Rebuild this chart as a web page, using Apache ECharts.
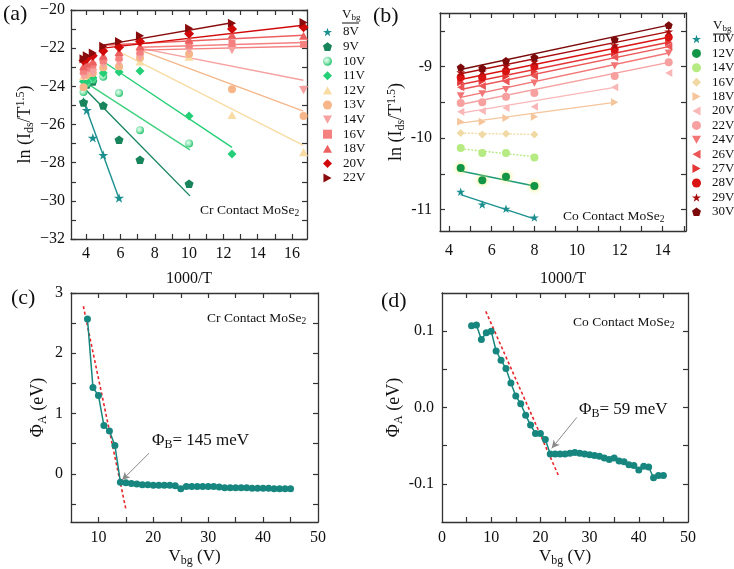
<!DOCTYPE html>
<html><head><meta charset="utf-8">
<script src="https://cdn.jsdelivr.net/npm/echarts@6/dist/echarts.min.js"></script>
<style>html,body{margin:0;padding:0;background:#fff}#c{width:734px;height:569px}</style>
</head><body><div id="c"></div>
<script>
// ---------------- DATA ----------------
// Panel (a): Cr contact, ln(Ids/T^1.5) vs 1000/T
const vbgA = ['8V','9V','10V','11V','12V','13V','14V','16V','18V','20V','22V'];
const invTA = [3.85, 4.04, 4.39, 5.0, 5.92, 7.14, 10.0, 12.5, 16.67];
const lnA = [
  [-24.8,-25.25,-26.7,-27.6,-29.85],
  [-24.85,-23.9,-23.75,-25.0,-26.8,-27.85,-29.1],
  [-24.3,-23.85,-23.65,-23.5,-24.35,-26.3,-27.0],
  [-23.75,-23.75,-23.55,-23.3,-23.25,-23.2,-25.55,-27.55],
  [-23.45,-23.3,-23.1,-22.95,-22.9,-22.7,-22.45,-25.5,-27.45],
  [-24.05,-23.4,-23.3,-23.0,-22.95,-22.5,-22.3,-24.15,-25.55],
  [-23.5,-23.3,-23.3,-22.85,-22.75,-22.45,-22.1,-22.1,-24.2],
  [-23.2,-23.05,-22.9,-22.65,-22.5,-22.2,-21.85,-21.75,-21.8],
  [-22.95,-22.8,-22.7,-22.4,-22.2,-21.9,-21.55,-21.3,-21.35],
  [-22.65,-22.55,-22.4,-22.15,-21.95,-21.65,-21.25,-21.0,-20.9],
  [-22.55,-22.4,-22.25,-21.9,-21.65,-21.35,-20.95,-20.7,-20.65]
];
// fitted lines [x1, y1, x2, y2]
const fitA = [
  [3.8,-24.66,5.94,-29.93],
  [3.85,-24.06,10.05,-29.74],
  [3.8,-23.7,10.05,-27.33],
  [5.0,-22.7,12.5,-27.2],
  [5.92,-22.18,16.66,-27.1],
  [7.14,-22.1,16.66,-25.3],
  [7.14,-22.0,16.66,-23.68],
  [7.14,-22.1,16.66,-21.9],
  [5.0,-21.85,16.66,-21.32],
  [5.0,-22.0,16.66,-20.8],
  [5.0,-21.84,12.5,-20.67]
];
const fitA_extra = [7.14,-21.95,16.66,-21.7];

// Panel (b): Co contact
const vbgB = ['10V','12V','14V','16V','18V','20V','22V','24V','26V','27V','28V','29V','30V'];
const invTB = [4.55, 5.56, 6.67, 8.0, 11.76, 14.29];
const lnB = [
  [-10.75,-10.93,-10.99,-11.11],
  [-10.42,-10.59,-10.54,-10.67],
  [-10.14,-10.21,-10.21,-10.27],
  [-9.93,-9.95,-9.94,-9.95],
  [-9.77,-9.77,-9.72,-9.70,-9.50],
  [-9.63,-9.62,-9.58,-9.56,-9.29,-9.09],
  [-9.51,-9.50,-9.42,-9.37,-9.13,-8.94],
  [-9.41,-9.38,-9.32,-9.23,-8.99,-8.81],
  [-9.29,-9.27,-9.21,-9.13,-8.87,-8.72],
  [-9.22,-9.20,-9.14,-9.07,-8.81,-8.66],
  [-9.15,-9.15,-9.06,-9.00,-8.76,-8.59],
  [-9.08,-9.07,-8.99,-8.93,-8.70,-8.51],
  [-9.01,-9.02,-8.92,-8.87,-8.62,-8.42]
];
const fitB = [
  [4.55,-10.79,8.0,-11.13],
  [4.55,-10.46,8.0,-10.67],
  [4.55,-10.15,8.0,-10.26],
  [4.55,-9.93,8.0,-9.95],
  [4.55,-9.79,11.76,-9.50],
  [4.55,-9.65,11.76,-9.29],
  [4.55,-9.53,14.29,-8.94],
  [4.55,-9.43,14.29,-8.81],
  [4.55,-9.32,14.29,-8.72],
  [4.55,-9.25,14.29,-8.66],
  [4.55,-9.18,14.29,-8.59],
  [4.55,-9.10,14.29,-8.51],
  [4.55,-9.04,14.29,-8.42]
];

// Panel (c): Cr contact, barrier vs Vbg
const vbgC = [8,9,10,11,12,13,14,15,16,17,18,19,20,21,22,23,24,25,26,27,28,29,30,31,32,33,34,35,36,37,38,39,40,41,42,43,44,45];
const phiC = [2.57,1.43,1.30,0.80,0.71,0.47,-0.14,-0.15,-0.16,-0.17,-0.18,-0.18,-0.19,-0.19,-0.19,-0.19,-0.20,-0.25,-0.21,-0.21,-0.21,-0.21,-0.21,-0.21,-0.22,-0.23,-0.23,-0.23,-0.23,-0.23,-0.24,-0.24,-0.24,-0.24,-0.25,-0.25,-0.25,-0.25];
const dashC = [[7.25,2.78],[15.0,-0.59]];
const arrowC = [[19.2,0.34],[14.3,-0.105]];

// Panel (d): Co contact
const vbgD = [6,7,8,9,10,11,12,13,14,15,16,17,18,19,20,21,22,23,24,25,26,27,28,29,30,31,32,33,34,35,36,37,38,39,40,41,42,43,44,45];
const phiD = [0.107,0.108,0.089,0.098,0.100,0.074,0.062,0.051,0.032,0.015,0.005,-0.010,-0.023,-0.034,-0.034,-0.042,-0.061,-0.061,-0.061,-0.061,-0.060,-0.059,-0.060,-0.061,-0.062,-0.063,-0.064,-0.066,-0.068,-0.066,-0.070,-0.071,-0.075,-0.076,-0.082,-0.077,-0.078,-0.092,-0.089,-0.089];
const dashD = [[8.9,0.126],[23.8,-0.091]];
const arrowD = [[27.4,-0.013],[22.3,-0.0535]];

// tick values
const ticksAx = [4,5,6,7,8,9,10,11,12,13,14,15,16], labAx = [4,6,8,10,12,14,16];
const ticksAy = [-32,-31,-30,-29,-28,-27,-26,-25,-24,-23,-22,-21,-20], labAy = [-32,-30,-28,-26,-24,-22,-20];
const ticksBx = [4,5,6,7,8,9,10,11,12,13,14,15], labBx = [4,6,8,10,12,14];
const ticksBy = [-11,-10.5,-10,-9.5,-9,-8.5], labBy = [-11,-10,-9];
const ticksCx = [10,15,20,25,30,35,40,45], labCx = [10,20,30,40,50];
const ticksCy = [-0.5,0,0.5,1,1.5,2,2.5,3], labCy = [0,1,2,3];
const ticksDx = [5,10,15,20,25,30,35,40,45], labDx = [0,10,20,30,40,50];
const ticksDy = [-0.1,-0.05,0,0.05,0.1], labDy = [-0.1,0,0.1];

// ---------------- STYLE ----------------
const FONT = "'Liberation Serif','Times New Roman',serif";
const STAR = 'path://M50,0L61.8,35.1L98.9,35.1L68.9,56.9L80.3,92.1L50,70.4L19.7,92.1L31.1,56.9L1.1,35.1L38.2,35.1Z';
const PENT = 'path://M50,0L97.6,34.5L79.4,90.5L20.6,90.5L2.4,34.5Z';
const TUP = 'path://M50,0L100,90L0,90Z';
const TDN = 'path://M0,0L100,0L50,90Z';
const TRT = 'path://M0,0L90,50L0,100Z';
const TLT = 'path://M90,0L0,50L90,100Z';
const colA = ['#1c8f8f','#17845c','#3fd07f','#25cf78','#f8dca4','#f6b68a','#f7a1a1','#f58080','#ec6060','#d10808','#8a0b0b'];
const symA = [STAR,PENT,'circle','diamond',TUP,'circle',TDN,'rect',TUP,'diamond',TRT];
const sizeA = [10,9,8,9,9,8,9,7,9,10,9];
const colB = ['#1c8f8f','#139548','#b6ea82','#f1d9a4','#f5c59c','#f9b8b8','#f7a0a0','#f27676','#eb5656','#e43838','#d91212','#a80c0c','#7c0a0a'];
const lineColB = ['#1c8f8f','#1b9a75','#b6ea82','#f1d9a4','#f5c59c','#f9b8b8','#f7a0a0','#f27676','#eb5656','#e43838','#d91212','#a80c0c','#7c0a0a'];
const symB = [STAR,'circle','circle','diamond',TRT,TLT,'circle',TDN,TLT,TRT,'circle',STAR,PENT];
const TEAL = '#16867f';

const chart = echarts.init(document.getElementById('c'), null, {renderer:'canvas'});

function xAxes(gi, min, max, ticks, labs, fmt, name, nameGap, margin) {
  const base = {gridIndex: gi, type:'value', min, max, splitLine:{show:false},
    axisLine:{show:true, onZero:false, lineStyle:{color:'#333', width:1.3}},
    axisTick:{show:true, inside:true, length:5, customValues:ticks, lineStyle:{color:'#333', width:1.2}}};
  return [
    Object.assign({}, base, {position:'bottom',
      axisLabel:{customValues:labs, formatter:fmt, fontFamily:FONT, fontSize:16, color:'#111', margin},
      name, nameLocation:'middle', nameGap,
      nameTextStyle:{fontFamily:FONT, fontSize:16, color:'#111', rich:{
        a:{fontFamily:FONT, fontSize:17, color:'#111'},
        s:{fontFamily:FONT, fontSize:12, color:'#111', padding:[9,0,0,0]}}}}),
    Object.assign({}, base, {position:'top', axisLabel:{show:false}})
  ];
}
function yAxes(gi, min, max, ticks, labs, fmt, name, nameGap, margin) {
  const base = {gridIndex: gi, type:'value', min, max, splitLine:{show:false},
    axisLine:{show:true, onZero:false, lineStyle:{color:'#333', width:1.3}},
    axisTick:{show:true, inside:true, length:5, customValues:ticks, lineStyle:{color:'#333', width:1.2}}};
  return [
    Object.assign({}, base, {position:'left',
      axisLabel:{customValues:labs, formatter:fmt, fontFamily:FONT, fontSize:16, color:'#111', margin},
      name, nameLocation:'middle', nameGap, nameRotate:90,
      nameTextStyle:{fontFamily:FONT, fontSize:18, color:'#111', rich:{
        a:{fontFamily:FONT, fontSize:18, color:'#111'},
        s:{fontFamily:FONT, fontSize:12, color:'#111', padding:[9,0,0,0]},
        p:{fontFamily:FONT, fontSize:12, color:'#111', padding:[0,0,9,0]}}}}),
    Object.assign({}, base, {position:'right', axisLabel:{show:false}})
  ];
}

const minusFmt = v => (v < 0 ? '\u2212' + Math.abs(v) : String(v));
const hyFmt = v => String(v);
const d1Fmt = v => v.toFixed(1);

const yTitleLn = '{a|ln (I}{s|ds}{a|/T}{p|1.5}{a|)}';
const yTitlePhi = '{a|\u03A6}{s|A}{a| (eV)}';
const xTitleV = '{a|V}{s|bg}{a| (V)}';

const xAxis = [].concat(
  xAxes(0, 3.12, 16.87, ticksAx, labAx, hyFmt, '1000/T', 32, 7),
  xAxes(1, 3.58, 15.1, ticksBx, labBx, hyFmt, '1000/T', 40, 12),
  xAxes(2, 5, 50, ticksCx, labCx, hyFmt, xTitleV, 24, 8),
  xAxes(3, 0, 50, ticksDx, labDx, hyFmt, xTitleV, 24, 8)
);
const yAxis = [].concat(
  yAxes(0, -32, -20, ticksAy, labAy, minusFmt, yTitleLn, 33, 6),
  yAxes(1, -11.3, -8.25, ticksBy, labBy, hyFmt, yTitleLn, 27, 8),
  yAxes(2, -0.8, 3, ticksCy, labCy, hyFmt, yTitlePhi, 22, 8),
  yAxes(3, -0.15, 0.15, ticksDy, labDy, d1Fmt, yTitlePhi, 22, 8)
);

const series = [];
// panel a fit lines
fitA.forEach((f, i) => {
  series.push({type:'line', name:'fa'+i, xAxisIndex:0, yAxisIndex:0, symbol:'none', silent:true, z:2,
    lineStyle:{color:colA[i], width:1.4}, data:[[f[0],f[1]],[f[2],f[3]]]});
});
series.push({type:'line', name:'faX', xAxisIndex:0, yAxisIndex:0, symbol:'none', silent:true, z:2,
  lineStyle:{color:colA[7], width:1.4}, data:[[fitA_extra[0],fitA_extra[1]],[fitA_extra[2],fitA_extra[3]]]});
// panel a points
vbgA.forEach((v, i) => {
  let color = colA[i];
  if (i === 2) color = {type:'radial', x:0.4, y:0.4, r:0.6, colorStops:[{offset:0,color:'#e6fff0'},{offset:0.5,color:'#9eeac0'},{offset:1,color:'#2cc472'}]};
  series.push({type:'scatter', name:'a:'+v, xAxisIndex:0, yAxisIndex:0, z:3,
    symbol:symA[i], symbolSize:sizeA[i], symbolKeepAspect:true,
    itemStyle:{color, opacity:1},
    data: lnA[i].map((y, k) => [invTA[k], y])});
});
// panel b fit lines
fitB.forEach((f, i) => {
  series.push({type:'line', name:'fb'+i, xAxisIndex:2, yAxisIndex:2, symbol:'none', silent:true, z:2,
    lineStyle:{color:lineColB[i], width:1.4, type:(i===2||i===3)?[2,1.5]:'solid'}, data:[[f[0],f[1]],[f[2],f[3]]]});
});
vbgB.forEach((v, i) => {
  const it = {color:colB[i], opacity:1};
  if (i === 1) { it.shadowBlur = 5; it.shadowColor = '#eef060'; }
  series.push({type:'scatter', name:'b:'+v, xAxisIndex:2, yAxisIndex:2, z:3,
    symbol:symB[i], symbolSize: symB[i]===STAR ? 9 : 8, symbolKeepAspect:true,
    itemStyle:it,
    data: lnB[i].map((y, k) => [invTB[k], y])});
});
// panel c
series.push({type:'line', name:'dashC', xAxisIndex:4, yAxisIndex:4, symbol:'none', silent:true, z:2,
  lineStyle:{color:'#e8262a', width:1.6, type:[3,2.5]}, data:dashC});
series.push({type:'line', name:'phiC', xAxisIndex:4, yAxisIndex:4, z:3,
  symbol:'circle', symbolSize:7, showAllSymbol:true,
  lineStyle:{color:TEAL, width:1.5}, itemStyle:{color:TEAL},
  data: vbgC.map((x, k) => [x, phiC[k]]),
  markLine:{silent:true, animation:false, symbol:['none','arrow'], symbolSize:[6,8],
    lineStyle:{color:'#8a8a8a', width:1, type:'solid'}, label:{show:false},
    data:[[{coord:arrowC[0]},{coord:arrowC[1]}]]}});
// panel d
series.push({type:'line', name:'dashD', xAxisIndex:6, yAxisIndex:6, symbol:'none', silent:true, z:2,
  lineStyle:{color:'#e8262a', width:1.6, type:[3,2.5]}, data:dashD});
series.push({type:'line', name:'phiD', xAxisIndex:6, yAxisIndex:6, z:3,
  symbol:'circle', symbolSize:7, showAllSymbol:true,
  lineStyle:{color:TEAL, width:1.5}, itemStyle:{color:TEAL},
  data: vbgD.map((x, k) => [x, phiD[k]]),
  markLine:{silent:true, animation:false, symbol:['none','arrow'], symbolSize:[6,8],
    lineStyle:{color:'#8a8a8a', width:1, type:'solid'}, label:{show:false},
    data:[[{coord:arrowD[0]},{coord:arrowD[1]}]]}});

const legendText = {fontFamily:FONT, fontSize:13, color:'#111', lineHeight:14, padding:[0,0,0,6]};
const legend = [
  {orient:'vertical', left:323, top:25, padding:0, itemWidth:9, itemHeight:9, itemGap:0.6,
   selectedMode:false, textStyle:legendText, formatter:n => n.slice(2),
   data: vbgA.map(v => 'a:'+v)},
  {orient:'vertical', left:692, top:32, padding:0, itemWidth:9, itemHeight:9, itemGap:0.4,
   selectedMode:false, textStyle:legendText, formatter:n => n.slice(2),
   data: vbgB.map(v => 'b:'+v)}
];

function txt(left, top, text, rich, extra) {
  return Object.assign({type:'text', left, top, silent:true, z:10,
    style:{text, rich, fill:'#111', font:'13px ' + FONT}}, extra || {});
}
const richContact = {a:{fontFamily:FONT, fontSize:13.5, color:'#111'}, s:{fontFamily:FONT, fontSize:9.5, color:'#111', padding:[6,0,0,0]}};
const richVbg = {a:{fontFamily:FONT, fontSize:13, color:'#111'}, s:{fontFamily:FONT, fontSize:9, color:'#111', padding:[6,0,0,0]}};
const richPhi = {a:{fontFamily:FONT, fontSize:17, color:'#111'}, s:{fontFamily:FONT, fontSize:12, color:'#111', padding:[9,0,0,0]}};
const richPanel = {a:{fontFamily:FONT, fontSize:22, color:'#111'}};

const graphic = [
  txt(3, 3, '{a|(a)}', richPanel),
  txt(373, 5, '{a|(b)}', richPanel),
  txt(11, 287, '{a|(c)}', richPanel),
  txt(381, 290, '{a|(d)}', richPanel),
  txt(200, 203, '{a|Cr Contact MoSe}{s|2}', richContact),
  txt(563, 209, '{a|Co Contact MoSe}{s|2}', richContact),
  txt(207, 311, '{a|Cr Contact MoSe}{s|2}', richContact),
  txt(573, 315, '{a|Co Contact MoSe}{s|2}', richContact),
  txt(342, 8, '{a|V}{s|bg}', richVbg),
  txt(713, 19, '{a|V}{s|bg}', richVbg),
  {type:'line', silent:true, shape:{x1:342, y1:23, x2:359, y2:23}, style:{stroke:'#111', lineWidth:1}},
  {type:'line', silent:true, shape:{x1:713, y1:34, x2:730, y2:34}, style:{stroke:'#111', lineWidth:1}},
  txt(152, 432, '{a|\u03A6}{s|B}{a|= 145 meV}', richPhi),
  txt(579, 401, '{a|\u03A6}{s|B}{a|= 59 meV}', richPhi)
];

chart.setOption({
  animation:false,
  backgroundColor:'#fff',
  textStyle:{fontFamily:FONT},
  grid:[
    {left:71, top:10, width:236, height:229, outerBoundsMode:'none'},
    {left:440, top:13, width:246, height:218, outerBoundsMode:'none'},
    {left:71, top:293, width:247, height:229, outerBoundsMode:'none'},
    {left:442, top:293, width:246, height:229, outerBoundsMode:'none'}
  ],
  xAxis, yAxis, series, legend, graphic
});
</script></body></html>
